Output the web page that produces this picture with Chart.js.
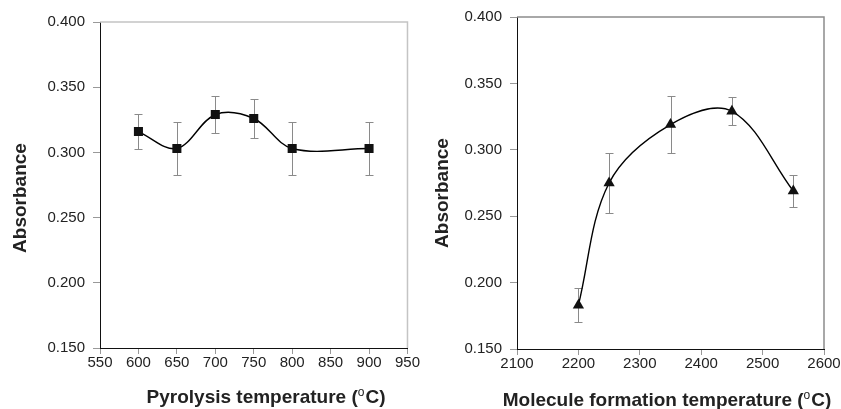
<!DOCTYPE html>
<html>
<head>
<meta charset="utf-8">
<script src="https://cdn.jsdelivr.net/npm/chart.js@4"></script>
<style>
  body { margin:0; background:#fff; }
  .box { position:absolute; top:0; height:409px; }
</style>
</head>
<body>
<div class="box" style="left:0;width:420px"><canvas id="pyro" width="420" height="409"></canvas></div>
<div class="box" style="left:420px;width:421px"><canvas id="mole" width="421" height="409"></canvas></div>
<script>
// left panel: pyrolysis
const pyroTemps = [600, 650, 700, 750, 800, 900];
const pyroAbs   = [0.316, 0.303, 0.329, 0.326, 0.303, 0.303];
const pyroErr   = [0.0135, 0.020, 0.014, 0.015, 0.020, 0.020];
const pyroTicks = [550, 600, 650, 700, 750, 800, 850, 900, 950];

// right panel: molecule formation
const moleTemps = [2200, 2250, 2350, 2450, 2550];
const moleAbs   = [0.183, 0.275, 0.319, 0.329, 0.269];
const moleErr   = [0.0128, 0.0223, 0.0217, 0.0104, 0.012];
const moleTicks = [2100, 2200, 2300, 2400, 2500, 2600];

const absTicks = [0.150, 0.200, 0.250, 0.300, 0.350, 0.400];

const font = "'Liberation Sans', Arial, sans-serif";

// error bars + border on top/right
const errorBars = {
  id: 'errorBars',
  beforeDatasetsDraw(chart, args, opts) {
    const { ctx, chartArea: a, scales: { x, y } } = chart;
    ctx.save();
    ctx.strokeStyle = opts.frame;
    ctx.lineWidth = 1.5;
    ctx.beginPath();
    ctx.moveTo(a.left, a.top);
    ctx.lineTo(a.right, a.top);
    ctx.lineTo(a.right, a.bottom);
    ctx.stroke();

    const ds = chart.data.datasets[0];
    ctx.strokeStyle = '#8a8a8a';
    ctx.lineWidth = 1;
    ds.data.forEach((p, i) => {
      const px = Math.round(x.getPixelForValue(p.x)) + 0.5;
      const hi = Math.round(y.getPixelForValue(p.y + ds.err[i])) + 0.5;
      const lo = Math.round(y.getPixelForValue(p.y - ds.err[i])) + 0.5;
      ctx.beginPath();
      ctx.moveTo(px, hi); ctx.lineTo(px, lo);
      ctx.moveTo(px - 4, hi); ctx.lineTo(px + 4, hi);
      ctx.moveTo(px - 4, lo); ctx.lineTo(px + 4, lo);
      ctx.stroke();
    });
    ctx.restore();
  }
};

// axis titles, with a raised small "o" for degrees
const axisTitles = {
  id: 'axisTitles',
  afterDraw(chart, args, o) {
    const ctx = chart.ctx;
    ctx.save();
    ctx.fillStyle = '#222';
    ctx.textBaseline = 'alphabetic';
    const big = 'bold 19px ' + font, small = '12px ' + font;
    ctx.font = big;
    const w1 = ctx.measureText(o.before).width, w3 = ctx.measureText('C)').width;
    ctx.font = small;
    const w2 = ctx.measureText('o').width + 1;
    let x = o.xCenter - (w1 + w2 + w3) / 2;
    ctx.textAlign = 'left';
    ctx.font = big; ctx.fillText(o.before, x, o.xBase); x += w1;
    ctx.font = small; ctx.fillText('o', x, o.xBase - 7); x += w2;
    ctx.font = big; ctx.fillText('C)', x, o.xBase);

    ctx.translate(o.yCenterX, o.yCenterY);
    ctx.rotate(-Math.PI / 2);
    ctx.textAlign = 'center';
    ctx.textBaseline = 'middle';
    ctx.font = big;
    ctx.fillText('Absorbance', 0, 0);
    ctx.restore();
  }
};

function makeChart(id, temps, abs, err, xTicks, pointStyle, pad, yWidth, xHeight, titles, frame) {
  return new Chart(document.getElementById(id), {
    type: 'line',
    data: {
      datasets: [{
        data: temps.map((t, i) => ({ x: t, y: abs[i] })),
        err: err,
        borderColor: '#000',
        borderWidth: 1.4,
        tension: 0.35,
        pointStyle: pointStyle,
        pointRadius: pointStyle == 'rect' ? 6.4 : 6.5,
        pointBackgroundColor: '#111',
        pointBorderColor: '#111',
        pointBorderWidth: 0
      }]
    },
    options: {
      responsive: false,
      animation: false,
      layout: { padding: pad },
      plugins: {
        legend: { display: false }, tooltip: { enabled: false },
        axisTitles: titles,
        errorBars: { frame: frame }
      },
      scales: {
        x: {
          type: 'linear',
          min: xTicks[0], max: xTicks[xTicks.length - 1],
          afterBuildTicks: s => { s.ticks = xTicks.map(v => ({ value: v })); },
          afterFit: s => { s.height = xHeight; },
          grid: { drawOnChartArea: false, tickLength: 6, color: '#999' },
          border: { color: '#111', width: 1 },
          ticks: { color: '#222', font: { family: font, size: 15 }, padding: 0, maxRotation: 0,
                   callback: v => String(v) }
        },
        y: {
          min: 0.15, max: 0.4,
          afterBuildTicks: s => { s.ticks = absTicks.map(v => ({ value: v })); },
          afterFit: s => { s.width = yWidth; },
          grid: { drawOnChartArea: false, tickLength: 7, color: '#999' },
          border: { color: '#111', width: 1 },
          ticks: { color: '#222', font: { family: font, size: 15 }, padding: 8,
                   callback: v => v.toFixed(3) }
        }
      }
    },
    plugins: [errorBars, axisTitles]
  });
}

makeChart('pyro', pyroTemps, pyroAbs, pyroErr, pyroTicks, 'rect',
  { left: 0, top: 22, right: 9, bottom: 0 }, 100, 61,
  { before: 'Pyrolysis temperature (', xCenter: 266, xBase: 403, yCenterX: 21, yCenterY: 198 },
  '#c4c4c4');
makeChart('mole', moleTemps, moleAbs, moleErr, moleTicks, 'triangle',
  { left: 0, top: 17, right: 17, bottom: 0 }, 97, 60,
  { before: 'Molecule formation temperature (', xCenter: 247, xBase: 406, yCenterX: 23, yCenterY: 193 },
  '#8c8c8c');
</script>
</body>
</html>
